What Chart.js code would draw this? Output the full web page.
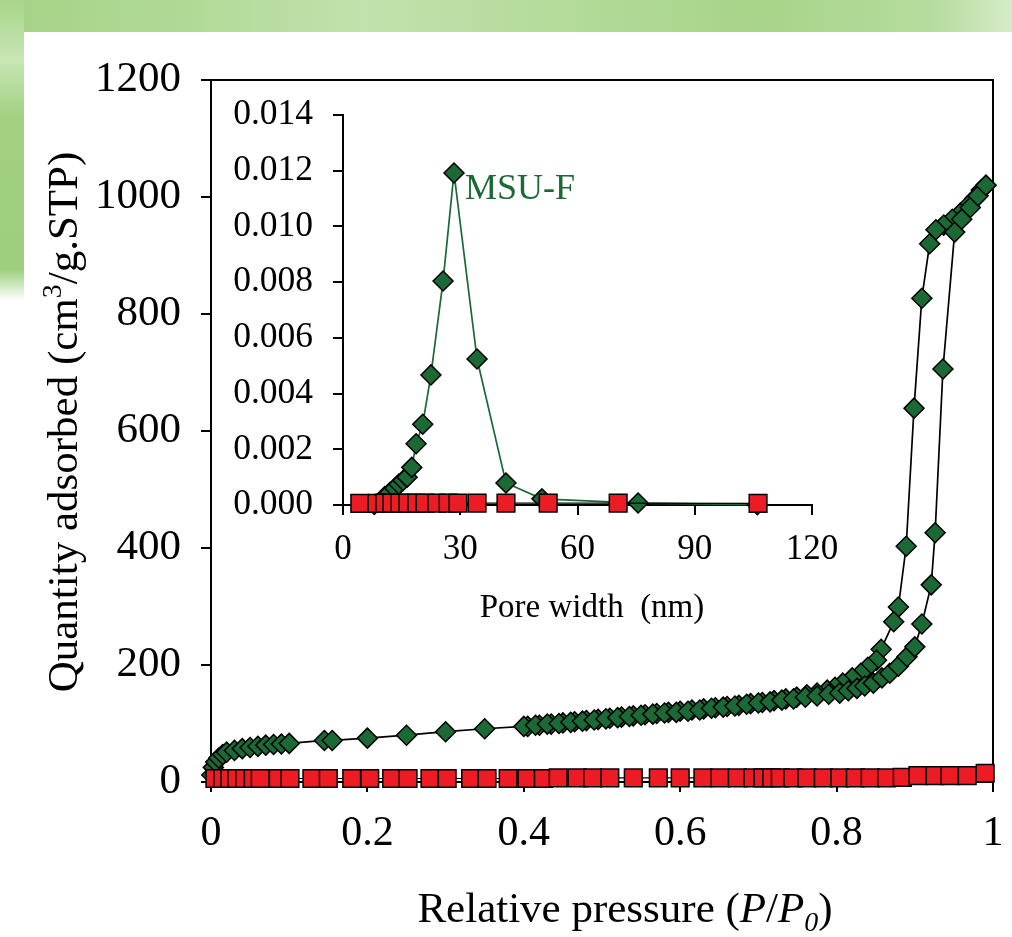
<!DOCTYPE html>
<html>
<head>
<meta charset="utf-8">
<title>MSU-F N2 isotherm</title>
<script src="https://cdn.jsdelivr.net/npm/chart.js@4.4.0/dist/chart.umd.min.js"></script>
<style>
  html, body { margin: 0; padding: 0; }
  body { width: 1012px; height: 937px; position: relative; overflow: hidden; background: #fff; }
  .band-top { position: absolute; left: 0; top: 0; width: 1012px; height: 32px;
    background: linear-gradient(90deg, #a4d385 0%, #b0d995 18%, #c2e2ad 36%, #b4db9a 55%, #a6d488 75%, #b6dc9d 92%, #d6ebc8 100%); }
  .band-left { position: absolute; left: 0; top: 0; width: 24px; height: 300px;
    background: linear-gradient(180deg, #a8d58a 0%, #c8e6b5 20%, #a0d080 40%, #9ecf7e 90%, #ffffff 100%); }
  #main { position: absolute; left: 0; top: 0; }
  #inset { position: absolute; left: 220px; top: 90px; }
</style>
</head>
<body>
<div class="band-top"></div>
<div class="band-left"></div>
<canvas id="main" width="1012" height="937"></canvas>
<canvas id="inset" width="620" height="560"></canvas>
<script>
    // isotherm, MSU-F adsorption branch
    const adsP = [0.001, 0.003, 0.006, 0.010, 0.015, 0.020, 0.030, 0.040, 0.050, 0.060, 0.070, 0.080, 0.090, 0.100,
        0.145, 0.155, 0.200, 0.250, 0.300, 0.350, 0.400, 0.415, 0.430, 0.445, 0.460, 0.475, 0.490, 0.505, 0.520,
        0.535, 0.550, 0.565, 0.580, 0.595, 0.610, 0.625, 0.640, 0.655, 0.670, 0.685, 0.700, 0.715, 0.730, 0.745,
        0.760, 0.775, 0.790, 0.804, 0.815, 0.826, 0.836, 0.847, 0.858, 0.868, 0.879, 0.890, 0.900, 0.909, 0.921,
        0.926, 0.936, 0.951, 0.960, 0.971, 0.981, 0.991];
    const adsQ = [12, 25, 34, 41, 47, 51, 54, 57, 59, 61, 63, 64, 65, 66,
        71, 71, 75, 80, 86, 91, 95, 97, 99, 100, 102, 104, 106, 108, 110,
        112, 114, 116, 118, 119, 121, 123, 126, 128, 130, 133, 135, 137, 140, 142,
        145, 147, 150, 152, 156, 160, 164, 169, 178, 186, 198, 214, 231, 270, 337,
        426, 706, 940, 962, 982, 1002, 1020];

    // MSU-F desorption branch
    const desP = [0.991, 0.985, 0.977, 0.968, 0.958, 0.948, 0.937, 0.927, 0.919, 0.909, 0.899, 0.889, 0.879, 0.873,
        0.857, 0.851, 0.840, 0.831, 0.820, 0.808, 0.798, 0.788, 0.775, 0.762, 0.749, 0.735, 0.720, 0.705, 0.690,
        0.675, 0.660, 0.645, 0.630, 0.615, 0.600, 0.585, 0.570, 0.555, 0.540, 0.525, 0.510, 0.495, 0.480, 0.465,
        0.450, 0.435, 0.420, 0.405];
    const desQ = [1020, 1012, 998, 985, 972, 962, 952, 944, 920, 827, 639, 403, 299, 274,
        227, 208, 196, 186, 178, 169, 162, 157, 152, 149, 145, 142, 139, 136, 134,
        131, 129, 127, 125, 123, 121, 119, 117, 115, 113, 111, 109, 107, 105, 103,
        101, 99, 97, 95];

    // second sample (red squares), isotherm
    const redP = [0.005, 0.015, 0.024, 0.033, 0.043, 0.054, 0.063, 0.086, 0.101, 0.129, 0.150, 0.180, 0.203, 0.231,
        0.252, 0.280, 0.302, 0.332, 0.353, 0.380, 0.404, 0.425, 0.444, 0.468, 0.488, 0.510, 0.540, 0.572, 0.600,
        0.629, 0.651, 0.673, 0.693, 0.706, 0.717, 0.728, 0.744, 0.762, 0.783, 0.804, 0.824, 0.843, 0.864, 0.884,
        0.904, 0.926, 0.945, 0.967, 0.990];
    const redQ = [6, 6, 6, 6, 6, 6, 6, 6, 6, 6, 6, 6, 6, 6,
        6, 6, 6, 6, 6, 6, 6, 6, 7, 7, 7, 7, 7, 7, 7,
        7, 7, 7, 7, 7, 7, 7, 7, 7, 7, 7, 7, 7, 7, 8,
        11, 11, 11, 11, 15];

    // inset: pore size distribution
    const psdW = [8.0, 9.5, 10.7, 12.0, 13.3, 14.3, 15.4, 16.4, 17.6, 18.7, 20.4, 22.5, 25.6, 28.4, 34.3, 41.7, 50.9, 75.5, 106.0];
    const psdV = [0.00002, 0.00010, 0.00030, 0.00045, 0.00060, 0.00075, 0.00088, 0.00100, 0.00135, 0.00220, 0.00290,
        0.00467, 0.00804, 0.01192, 0.00524, 0.00079, 0.00022, 0.00007, 0.00001];
    const redW = [4.3, 8.7, 10.7, 12.5, 14.6, 16.6, 18.9, 21.0, 24.0, 26.9, 29.4, 34.3, 41.7, 52.5, 70.4, 106.2];
    const redV = [0.00006, 0.00006, 0.00007, 0.00007, 0.00007, 0.00007, 0.00007, 0.00007, 0.00007, 0.00007, 0.00007,
        0.00007, 0.00007, 0.00007, 0.00007, 0.00006];

    const xTicksMain = [0, 0.2, 0.4, 0.6, 0.8, 1];
    const yTicksInset = [0, 0.002, 0.004, 0.006, 0.008, 0.010, 0.012, 0.014];

    const GREEN = '#1b6934';
    const RED = '#ed1c24';
    const SERIF = '"Liberation Serif", "Times New Roman", serif';

    function pairs(xs, ys) {
        return xs.map((x, i) => ({ x: x, y: ys[i] }));
    }

    function diamonds(label, data, lineColor) {
        return {
            label: label, data: data, showLine: true, clip: false,
            borderColor: lineColor, borderWidth: 1.7,
            pointStyle: 'rectRot', pointRadius: 10, pointHoverRadius: 10,
            pointBackgroundColor: GREEN, pointBorderColor: '#000', pointBorderWidth: 1.5
        };
    }

    function squares(label, data) {
        return {
            label: label, data: data, showLine: true, clip: false,
            borderColor: '#000', borderWidth: 1.2,
            pointStyle: 'rect', pointRadius: 12.5, pointHoverRadius: 12.5,
            pointBackgroundColor: RED, pointBorderColor: '#000', pointBorderWidth: 1.5
        };
    }

    // keep the layout padding as the only thing that decides the plot area
    function noOverflow(s) {
        s.paddingTop = 0;
        s.paddingBottom = 0;
        s.paddingLeft = 0;
        s.paddingRight = 0;
    }

    // draws text made of pieces (normal / italic / sub / sup), centred on x
    function drawPieces(ctx, pieces, size, x, y) {
        let total = 0;
        pieces.forEach(p => {
            const s = p.small ? size * 0.65 : size;
            ctx.font = (p.italic ? 'italic ' : '') + s + 'px ' + SERIF;
            p.w = ctx.measureText(p.t).width;
            total += p.w;
        });
        let cx = x - total / 2;
        pieces.forEach(p => {
            const s = p.small ? size * 0.65 : size;
            ctx.font = (p.italic ? 'italic ' : '') + s + 'px ' + SERIF;
            ctx.fillText(p.t, cx, y + (p.shift || 0) * size);
            cx += p.w;
        });
    }

    const mainDecor = {
        id: 'mainDecor',
        beforeDatasetsDraw(chart) {
            const { ctx, chartArea: a } = chart;
            ctx.save();
            ctx.strokeStyle = '#000';
            ctx.lineWidth = 2;
            ctx.strokeRect(a.left, a.top, a.right - a.left, a.bottom - a.top);
            ctx.restore();
        },
        afterDraw(chart) {
            const ctx = chart.ctx;
            ctx.save();
            ctx.fillStyle = '#000';
            ctx.textBaseline = 'alphabetic';
            drawPieces(ctx, [
                { t: 'Relative pressure (' },
                { t: 'P', italic: true },
                { t: '/' },
                { t: 'P', italic: true },
                { t: '0', italic: true, small: true, shift: 0.2 },
                { t: ')' }
            ], 43, 625, 922);
            ctx.translate(77, 422);
            ctx.rotate(-Math.PI / 2);
            drawPieces(ctx, [
                { t: 'Quantity adsorbed (cm' },
                { t: '3', small: true, shift: -0.38 },
                { t: '/g.STP)' }
            ], 43, 0, 0);
            ctx.restore();
        }
    };

    const insetDecor = {
        id: 'insetDecor',
        afterDraw(chart) {
            const { ctx, scales } = chart;
            ctx.save();
            ctx.textBaseline = 'middle';
            ctx.textAlign = 'left';
            ctx.fillStyle = GREEN;
            ctx.font = '36px ' + SERIF;
            const px = scales.x.getPixelForValue(psdW[13]);
            const py = scales.y.getPixelForValue(psdV[13]);
            ctx.fillText('MSU-F', px + 11, py + 17);
            ctx.fillStyle = '#000';
            ctx.textAlign = 'center';
            ctx.font = '33px ' + SERIF;
            ctx.fillText('Pore width  (nm)', 372, 518);
            ctx.restore();
        }
    };

    const axisFont = size => ({ family: SERIF, size: size });

    new Chart(document.getElementById('main'), {
        type: 'scatter',
        data: {
            datasets: [
                squares('Reference', pairs(redP, redQ)),
                diamonds('MSU-F adsorption', pairs(adsP, adsQ), '#000'),
                diamonds('MSU-F desorption', pairs(desP, desQ), '#000')
            ]
        },
        options: {
            responsive: false,
            animation: false,
            events: [],
            layout: { padding: { left: 0, top: 80, right: 19, bottom: 0 } },
            plugins: { legend: { display: false }, tooltip: { enabled: false } },
            scales: {
                x: {
                    type: 'linear', min: 0, max: 1,
                    afterBuildTicks: s => { s.ticks = xTicksMain.map(v => ({ value: v })); },
                    afterFit: s => { s.height = 155; noOverflow(s); },
                    grid: { display: true, drawOnChartArea: false, drawTicks: true, tickLength: 10, color: '#000', lineWidth: 2 },
                    border: { display: true, color: '#000', width: 2 },
                    ticks: { color: '#000', font: axisFont(42), padding: 17, maxRotation: 0, callback: v => String(v) }
                },
                y: {
                    type: 'linear', min: 0, max: 1200,
                    afterFit: s => { s.width = 211; noOverflow(s); },
                    grid: { display: true, drawOnChartArea: false, drawTicks: true, tickLength: 10, color: '#000', lineWidth: 2 },
                    border: { display: true, color: '#000', width: 2 },
                    ticks: { stepSize: 200, color: '#000', font: axisFont(43), padding: 20, callback: v => String(v) }
                }
            }
        },
        plugins: [mainDecor]
    });

    new Chart(document.getElementById('inset'), {
        type: 'scatter',
        data: {
            datasets: [
                squares('Reference', pairs(redW, redV)),
                diamonds('MSU-F', pairs(psdW, psdV), GREEN)
            ]
        },
        options: {
            responsive: false,
            animation: false,
            events: [],
            layout: { padding: { left: 0, top: 25, right: 28, bottom: 0 } },
            plugins: { legend: { display: false }, tooltip: { enabled: false } },
            scales: {
                x: {
                    type: 'linear', min: 0, max: 120,
                    afterFit: s => { s.height = 145; noOverflow(s); },
                    grid: { display: true, drawOnChartArea: false, drawTicks: true, tickLength: 10, color: '#000', lineWidth: 2 },
                    border: { display: true, color: '#000', width: 2 },
                    ticks: { stepSize: 30, color: '#000', font: axisFont(35), padding: 14, maxRotation: 0 }
                },
                y: {
                    type: 'linear', min: 0, max: 0.014,
                    afterBuildTicks: s => { s.ticks = yTicksInset.map(v => ({ value: v })); },
                    afterFit: s => { s.width = 123; noOverflow(s); },
                    grid: { display: true, drawOnChartArea: false, drawTicks: true, tickLength: 10, color: '#000', lineWidth: 2 },
                    border: { display: true, color: '#000', width: 2 },
                    ticks: { color: '#000', font: axisFont(35.5), padding: 20, callback: v => Number(v).toFixed(3) }
                }
            }
        },
        plugins: [insetDecor]
    });
</script>
</body>
</html>
